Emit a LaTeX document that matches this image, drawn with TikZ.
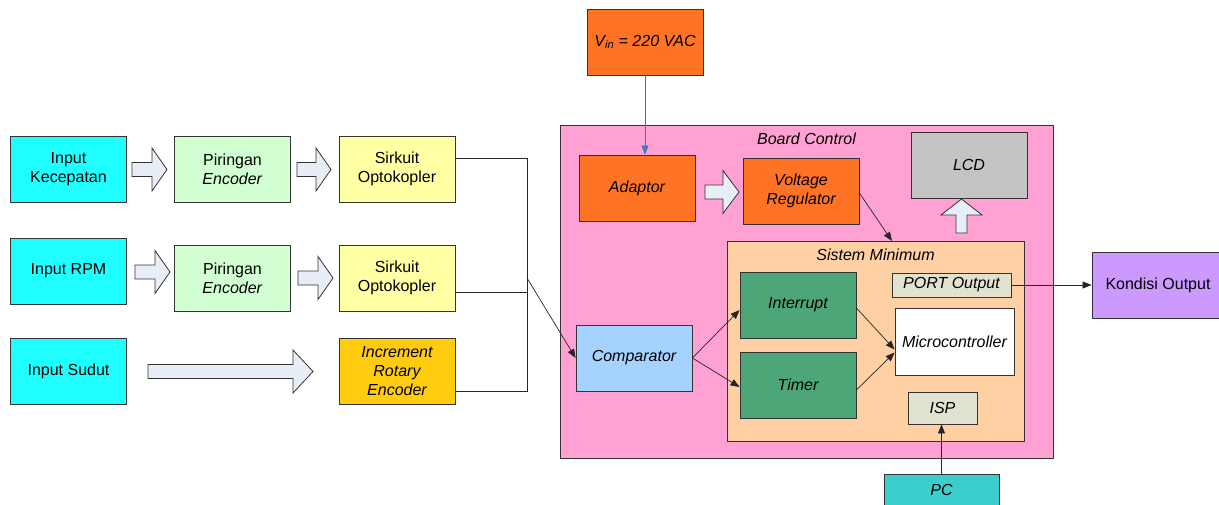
\documentclass[tikz,border=0pt]{standalone}
\usepackage{fontspec}
\setmainfont{Liberation Sans}
\usetikzlibrary{arrows.meta,calc}

\definecolor{inputc}{HTML}{20FFFF}
\definecolor{encc}{HTML}{D2FFD2}
\definecolor{optoc}{HTML}{FFFFA3}
\definecolor{rotc}{HTML}{FFCC10}
\definecolor{orangec}{HTML}{FF7424}
\definecolor{boardc}{HTML}{FFA2D3}
\definecolor{sysc}{HTML}{FFD0A3}
\definecolor{compc}{HTML}{A6D2FF}
\definecolor{timc}{HTML}{4DA677}
\definecolor{portc}{HTML}{E0E3D0}
\definecolor{lcdc}{HTML}{C4C4C4}
\definecolor{pcc}{HTML}{3ACFCD}
\definecolor{outc}{HTML}{CC99FF}
\definecolor{blkarrc}{HTML}{E8EEF7}
\definecolor{vinarr}{HTML}{4472C4}

\newcommand{\hblock}[4]{% from x #1 to tip x #2, centre y #3, head length #4
  \draw[blockarrow] (#1,#3-7) -- (#2-#4,#3-7) -- (#2-#4,#3-21.5) -- (#2,#3)
    -- (#2-#4,#3+21.5) -- (#2-#4,#3+7) -- (#1,#3+7) -- cycle;}

\begin{document}
\begin{tikzpicture}[x=1pt,y=-1pt,
  txt/.style={font=\fontsize{16}{19}\selectfont, align=center},
  box/.style={txt, draw=black!80, line width=0.8pt, minimum width=116pt,
    minimum height=66pt, inner sep=0pt},
  ibox/.style={box, font=\fontsize{16}{19}\selectfont\itshape},
  frame/.style={draw=black!80, line width=0.8pt},
  blockarrow/.style={draw=black!80, line width=0.8pt, fill=blkarrc},
  link/.style={draw=black!85, line width=0.7pt},
  arr/.style={link, -{Triangle[length=9pt,width=7pt]}}]
\useasboundingbox (0,0) rectangle (1219,504);

% enclosing frames
\node[frame, fill=boardc, minimum width=493pt, minimum height=333pt, inner sep=0pt]
  (board) at (806.5,291.5) {};
\node[txt, font=\fontsize{16}{19}\selectfont\itshape] (boardl) at (806.5,139) {Board Control};
\node[frame, fill=sysc, minimum width=297pt, minimum height=200pt, inner sep=0pt]
  (sm) at (875.5,341) {};
\node[txt, font=\fontsize{16}{19}\selectfont\itshape] (sml) at (875.5,255) {Sistem Minimum};

% sensor chains
\node[box, fill=inputc] (ik) at (68.5,169) {Input\\Kecepatan};
\node[box, fill=encc] (pe1) at (232.5,169) {Piringan\\\textit{Encoder}};
\node[box, fill=optoc] (so1) at (397,169) {Sirkuit\\Optokopler};

\node[box, fill=inputc] (ir) at (68.5,271) {Input RPM};
\node[box, fill=encc] (pe2) at (232.5,278) {Piringan\\\textit{Encoder}};
\node[box, fill=optoc] (so2) at (397,278) {Sirkuit\\Optokopler};

\node[box, fill=inputc] (is) at (68.5,371) {Input Sudut};
\node[ibox, fill=rotc] (ire) at (397,371) {Increment\\Rotary\\Encoder};

\hblock{132}{167}{169.5}{15}
\hblock{297}{331}{169.5}{15}
\hblock{135}{170}{272}{15}
\hblock{298}{333}{278}{15}
\hblock{148}{313}{371.5}{20}

% power path
\node[ibox, fill=orangec] (vin) at (645,42) {V\textsubscript{in} = 220 VAC};
\node[ibox, fill=orangec] (adp) at (637,188) {Adaptor};
\node[ibox, fill=orangec] (vr) at (801,191) {Voltage\\Regulator};
\node[ibox, fill=lcdc] (lcd) at (969,165) {LCD};
\hblock{705}{739}{192}{16}
\draw[blockarrow] (956,233) -- (956,215) -- (941,215) -- (961.5,199) -- (982,215)
  -- (967,215) -- (967,233) -- cycle;

% processing blocks
\node[ibox, fill=compc] (comp) at (634,358) {Comparator};
\node[ibox, fill=timc] (int) at (798,305) {Interrupt};
\node[ibox, fill=timc] (tim) at (798,385) {Timer};
\node[ibox, fill=portc, minimum width=119pt, minimum height=24pt] (port) at (951.5,285) {PORT Output};
\node[ibox, fill=white, minimum width=119pt, minimum height=67pt] (mc) at (954.5,341.5) {Microcontroller};
\node[ibox, fill=portc, minimum width=69pt, minimum height=32pt] (isp) at (942.5,408) {ISP};

\node[ibox, fill=pcc, minimum width=115pt, minimum height=32pt] (pc) at (941.5,490) {PC};
\node[box, fill=outc, minimum width=132pt] (out) at (1158,285) {Kondisi Output};

% signal wiring
\coordinate (jtop) at (527,158);
\coordinate (jmid) at (527,292);
\coordinate (jbot) at (527,391);
\coordinate (jarr) at (527,278);
\coordinate (smin) at (892,241);
\draw[link] (so1.east |- jtop) -- (jtop) -- (jbot) -- (ire.east |- jbot);
\draw[link] (so2.east |- jmid) -- (jmid);
\draw[arr] (jarr) -- (comp.west);

\draw[arr, draw=vinarr, fill=vinarr] (vin.south) -- (adp.north -| vin.south);
\draw[arr] ([yshift=-2pt]vr.east) -- (smin);
\draw[arr] (comp.east) -- ([yshift=-5pt]int.west);
\draw[arr] (comp.east) -- ([yshift=-2pt]tim.west);
\draw[arr] ([yshift=-3pt]int.east) -- ([yshift=-8pt]mc.west);
\draw[arr] ([yshift=-5pt]tim.east) -- ([yshift=-11pt]mc.west);
\draw[arr] (port.east) -- (out.west);
\draw[arr] (pc.north) -- (isp.south -| pc.north);
\end{tikzpicture}
\end{document}
